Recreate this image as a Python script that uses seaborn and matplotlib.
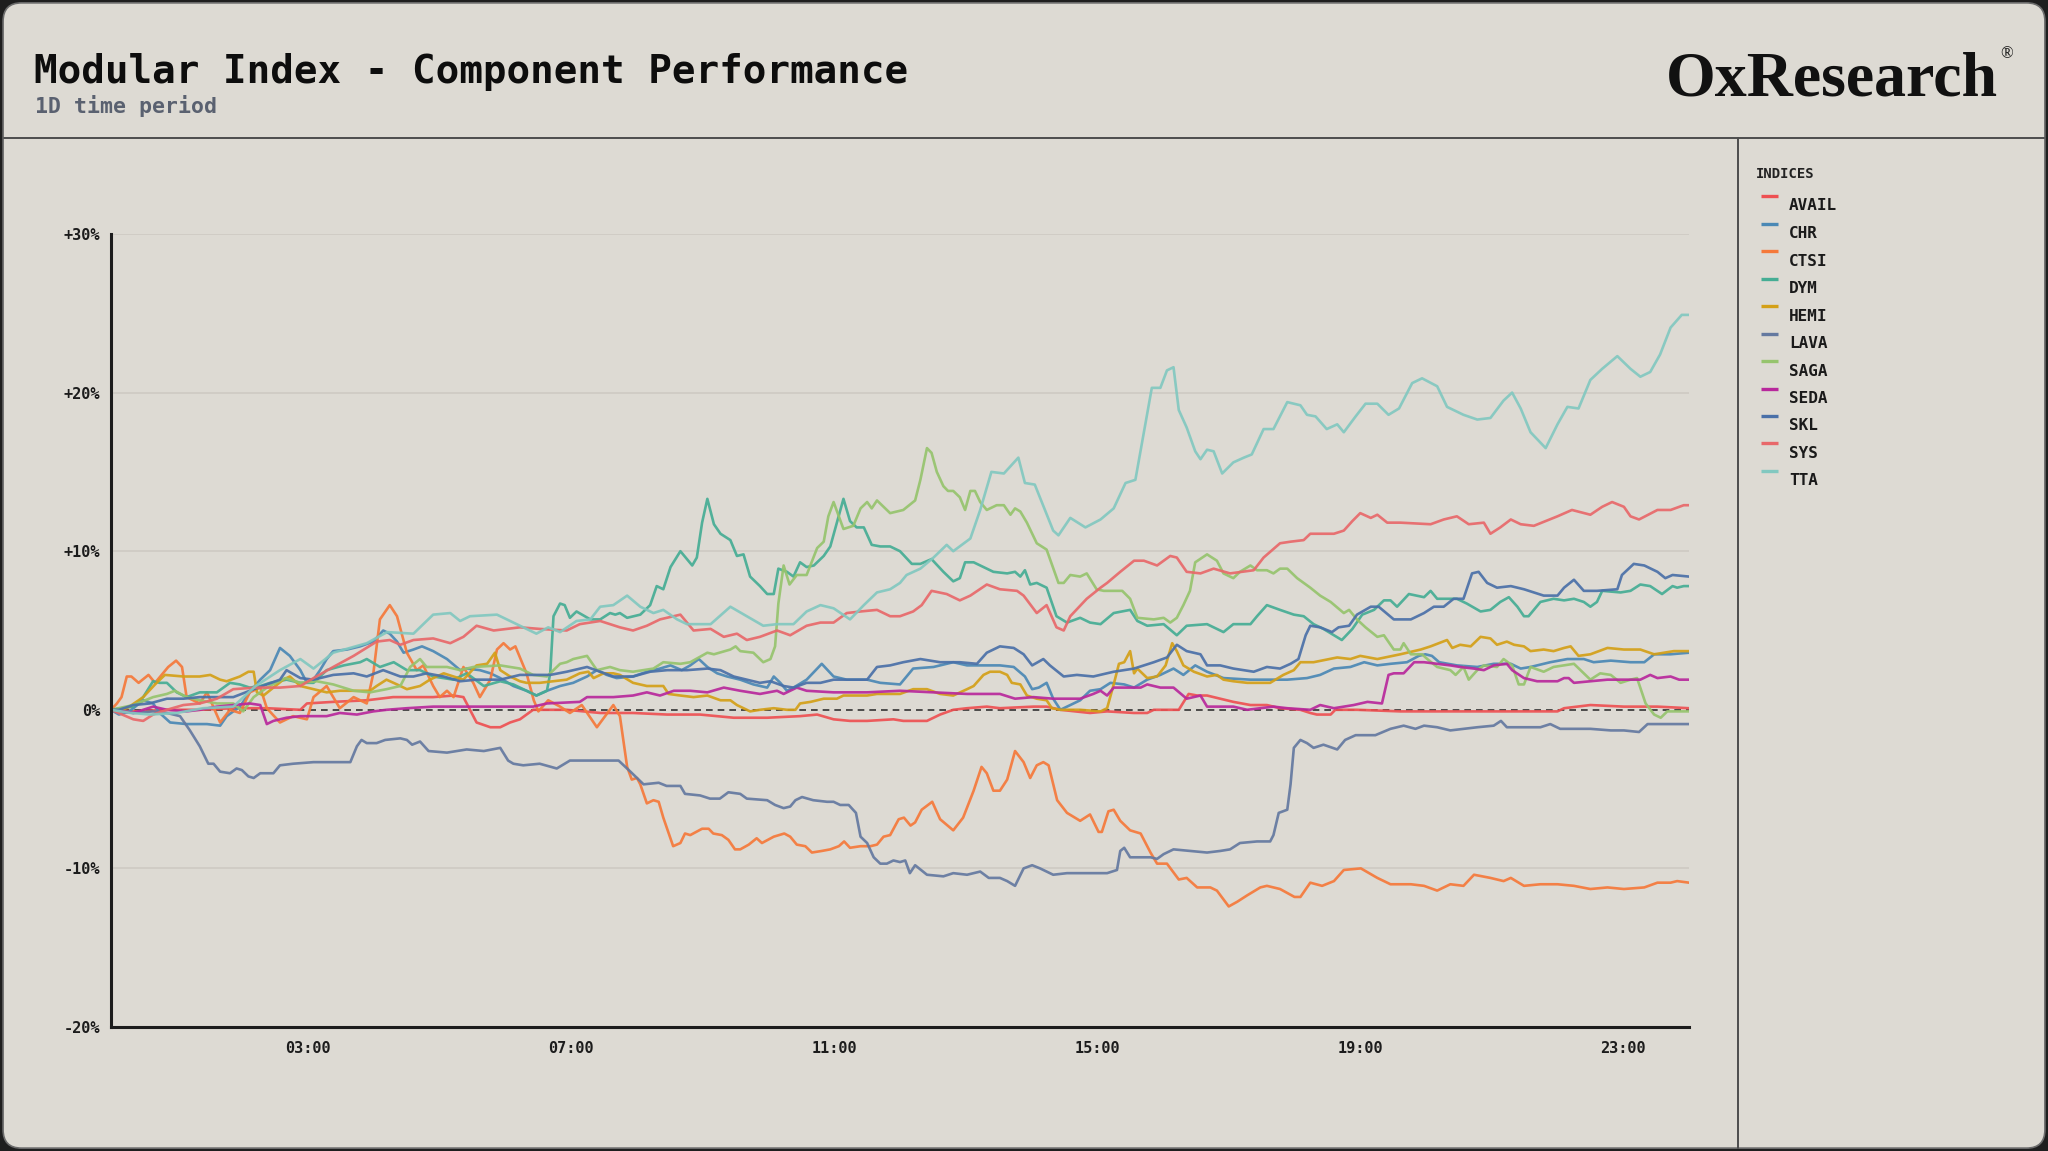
import matplotlib
matplotlib.use("Agg")
import matplotlib.pyplot as plt
from matplotlib.patches import FancyBboxPatch
from matplotlib.lines import Line2D
import seaborn as sns
import pandas as pd

# ---------------- data ----------------
names = ["AVAIL", "CHR", "CTSI", "DYM", "HEMI", "LAVA", "SAGA", "SEDA", "SKL", "SYS", "TTA"]
colors = ["#ee5052", "#4a88b5", "#f5793a", "#45ad94", "#d4a017", "#6479a0",
          "#96c46d", "#b8289c", "#4a70a8", "#e8686a", "#82c8c0"]

y_ticks = [-20, -10, 0, 10, 20, 30]
y_tick_labels = ["-20%", "-10%", "0%", "+10%", "+20%", "+30%"]
x_ticks = [3, 7, 11, 15, 19, 23]
x_tick_labels = ["03:00", "07:00", "11:00", "15:00", "19:00", "23:00"]

avail_h = [0, 0.34, 0.85, 1.35, 1.86, 2.37, 2.88, 2.98, 3.38, 3.89, 4.29, 4.6, 4.9, 5.21, 5.36, 5.41, 5.56, 5.77,
           5.92, 6.07, 6.22, 6.42, 6.93, 7.44, 7.94, 8.46, 8.96, 9.47, 9.98, 10.48, 10.74, 10.99, 11.24, 11.5,
           11.9, 12.05, 12.2, 12.41, 12.61, 12.81, 13.02, 13.32, 13.52, 14.03, 14.23, 14.44, 14.89, 15.15, 15.56,
           15.76, 15.86, 16.24, 16.39, 16.52, 16.67, 16.87, 17.07, 17.33, 17.58, 17.78, 18.09, 18.24, 18.34,
           18.55, 18.62, 18.95, 19.61, 20.22, 20.98, 22.0, 22.1, 22.5, 23.01, 23.52, 24.0]
avail_v = [0, -0.1, 0.0, 0.0, 0.1, 0.1, 0.0, 0.4, 0.5, 0.6, 0.8, 0.8, 0.8, 0.9, 0.8, 0.4, -0.8, -1.1,
           -1.1, -0.8, -0.6, 0.0, 0.0, -0.2, -0.2, -0.3, -0.3, -0.5, -0.5, -0.4, -0.3, -0.6, -0.7, -0.7,
           -0.6, -0.7, -0.7, -0.7, -0.3, 0.0, 0.1, 0.2, 0.1, 0.2, 0.2, 0.0, -0.2, -0.1, -0.2,
           -0.2, 0.0, 0.0, 1.0, 0.9, 0.9, 0.7, 0.5, 0.3, 0.3, 0.1, 0.0, -0.2, -0.3,
           -0.3, 0.0, 0.0, -0.1, -0.1, -0.1, -0.1, 0.1, 0.3, 0.2, 0.2, 0.1]

chr_h = [0, 0.12, 0.28, 0.49, 0.64, 0.74, 0.9, 1.15, 1.46, 1.66, 1.76, 1.96, 2.11, 2.27, 2.42, 2.57, 2.72, 2.88,
         2.98, 3.08, 3.18, 3.28, 3.38, 3.59, 3.79, 3.99, 4.14, 4.24, 4.35, 4.45, 4.6, 4.73, 4.9, 5.11, 5.31,
         5.41, 5.61, 5.77, 5.92, 6.12, 6.32, 6.47, 6.63, 6.83, 7.03, 7.24, 7.39, 7.54, 7.69, 7.94, 8.15, 8.35,
         8.51, 8.68, 8.81, 8.94, 9.07, 9.22, 9.37, 9.57, 9.77, 9.98, 10.08, 10.18, 10.28, 10.38, 10.58, 10.81,
         10.99, 11.19, 11.5, 11.7, 12.0, 12.2, 12.51, 12.81, 13.02, 13.27, 13.52, 13.73, 13.9, 14.01, 14.11,
         14.23, 14.33, 14.44, 14.59, 14.74, 14.89, 15.05, 15.2, 15.41, 15.56, 15.76, 15.96, 16.16, 16.31,
         16.49, 16.67, 16.92, 17.33, 17.58, 17.89, 18.19, 18.39, 18.6, 18.85, 19.06, 19.26, 19.46, 19.71,
         19.89, 19.99, 20.09, 20.2, 20.47, 20.78, 21.03, 21.29, 21.44, 21.59, 21.89, 22.15, 22.4, 22.55,
         22.81, 23.11, 23.32, 23.47, 23.72, 24.0]
chr_v = [0, -0.3, -0.1, 0.6, 0.4, -0.2, -0.8, -0.9, -0.9, -1.0, -0.4, 0.2, 1.1, 1.9, 2.5, 3.9, 3.4, 2.5,
         1.7, 1.9, 2.5, 3.2, 3.7, 3.8, 4.0, 4.3, 5.0, 4.8, 4.3, 3.6, 3.8, 4.0, 3.7, 3.2, 2.5,
         2.6, 2.5, 2.3, 2.0, 1.5, 1.2, 0.9, 1.2, 1.5, 1.7, 2.1, 2.5, 2.2, 2.0, 2.1, 2.4, 2.6,
         2.8, 2.5, 2.8, 3.2, 2.7, 2.3, 2.1, 1.9, 1.6, 1.4, 2.1, 1.7, 1.2, 1.4, 1.9, 2.9,
         2.1, 1.9, 1.9, 1.7, 1.6, 2.6, 2.7, 3.0, 2.8, 2.8, 2.8, 2.7, 2.1, 1.3, 1.4,
         1.7, 0.7, 0.0, 0.3, 0.6, 1.2, 1.3, 1.7, 1.6, 1.4, 1.9, 2.2, 2.6, 2.2,
         2.8, 2.4, 2.0, 1.9, 1.9, 1.9, 2.0, 2.2, 2.6, 2.7, 3.0, 2.8, 2.9, 3.0,
         3.4, 3.5, 3.4, 3.0, 2.8, 2.7, 2.9, 2.9, 2.6, 2.7, 3.0, 3.2, 3.2, 3.0,
         3.1, 3.0, 3.0, 3.5, 3.5, 3.6]

ctsi_h = [0, 0.09, 0.16, 0.24, 0.31, 0.42, 0.57, 0.67, 0.87, 0.99, 1.08, 1.15, 1.35, 1.46, 1.66, 1.81, 1.96,
          2.11, 2.27, 2.37, 2.57, 2.77, 2.98, 3.08, 3.28, 3.48, 3.69, 3.89, 3.99, 4.09, 4.24, 4.35, 4.5, 4.65,
          4.75, 4.9, 5.0, 5.11, 5.21, 5.36, 5.51, 5.61, 5.77, 5.87, 5.97, 6.07, 6.15, 6.32, 6.43, 6.5, 6.65,
          6.83, 6.98, 7.16, 7.39, 7.64, 7.74, 7.85, 7.92, 8.0, 8.05, 8.15, 8.25, 8.33, 8.4, 8.55, 8.66, 8.73,
          8.81, 8.99, 9.09, 9.16, 9.29, 9.39, 9.49, 9.57, 9.7, 9.82, 9.9, 10.08, 10.24, 10.33, 10.43, 10.56,
          10.66, 10.81, 10.94, 11.07, 11.15, 11.24, 11.4, 11.55, 11.65, 11.75, 11.85, 11.98, 12.06, 12.16,
          12.23, 12.33, 12.49, 12.61, 12.81, 12.96, 13.12, 13.24, 13.32, 13.42, 13.52, 13.63, 13.75, 13.88,
          13.98, 14.08, 14.18, 14.26, 14.39, 14.54, 14.74, 14.89, 15.02, 15.07, 15.17, 15.25, 15.35, 15.5,
          15.66, 15.81, 15.91, 16.06, 16.24, 16.36, 16.52, 16.72, 16.82, 17.0, 17.13, 17.28, 17.48, 17.58,
          17.78, 18.0, 18.09, 18.24, 18.42, 18.6, 18.75, 19.01, 19.26, 19.46, 19.77, 19.97, 20.17, 20.37,
          20.57, 20.73, 20.98, 21.18, 21.29, 21.49, 21.74, 22.0, 22.25, 22.5, 22.76, 23.01, 23.32, 23.52,
          23.72, 23.82, 24.0]
ctsi_v = [0, 0.4, 0.8, 2.1, 2.1, 1.7, 2.2, 1.7, 2.7, 3.1, 2.7, 0.8, 0.4, 1.1, -0.8, 0.0, -0.2,
          1.1, 1.4, 0.1, -0.8, -0.4, -0.6, 0.8, 1.5, 0.1, 0.8, 0.4, 2.3, 5.7, 6.6, 5.9, 3.6, 2.5,
          2.8, 1.5, 0.8, 1.2, 0.8, 2.7, 1.7, 0.8, 1.9, 3.8, 4.2, 3.8, 4.0, 2.3, 0.6, -0.1, 0.6,
          0.2, -0.2, 0.3, -1.1, 0.3, -0.4, -3.6, -4.4, -4.3, -4.7, -5.9, -5.7, -5.8, -6.8, -8.6, -8.4, -7.8,
          -7.9, -7.5, -7.5, -7.8, -7.9, -8.2, -8.8, -8.8, -8.5, -8.1, -8.4, -8.0, -7.8, -8.0, -8.5, -8.6,
          -9.0, -8.9, -8.8, -8.6, -8.3, -8.7, -8.6, -8.6, -8.5, -8.0, -7.9, -6.9, -6.8, -7.3,
          -7.1, -6.3, -5.8, -6.9, -7.6, -6.8, -5.1, -3.6, -4.0, -5.1, -5.1, -4.4, -2.6, -3.3,
          -4.3, -3.5, -3.3, -3.5, -5.7, -6.5, -7.0, -6.6, -7.7, -7.7, -6.4, -6.3, -7.0, -7.6,
          -7.8, -9.0, -9.7, -9.7, -10.7, -10.6, -11.2, -11.2, -11.4, -12.4, -12.1, -11.7, -11.2, -11.1,
          -11.3, -11.8, -11.8, -10.9, -11.1, -10.8, -10.1, -10.0, -10.6, -11.0, -11.0, -11.1, -11.4, -11.0,
          -11.1, -10.4, -10.6, -10.8, -10.6, -11.1, -11.0, -11.0, -11.1, -11.3, -11.2, -11.3, -11.2, -10.9,
          -10.9, -10.8, -10.9]

dym_h = [0, 0.34, 0.49, 0.64, 0.74, 0.85, 1.0, 1.15, 1.35, 1.61, 1.81, 1.96, 2.11, 2.27, 2.42, 2.67, 2.88, 3.08,
         3.28, 3.54, 3.79, 3.89, 4.09, 4.3, 4.5, 4.7, 4.9, 5.21, 5.41, 5.67, 5.92, 6.12, 6.32, 6.47, 6.63, 6.68,
         6.73, 6.83, 6.9, 6.98, 7.08, 7.29, 7.44, 7.59, 7.67, 7.74, 7.85, 8.05, 8.2, 8.3, 8.4, 8.51, 8.66, 8.84,
         8.91, 8.99, 9.07, 9.17, 9.27, 9.42, 9.52, 9.62, 9.72, 9.87, 9.98, 10.08, 10.15, 10.28, 10.38, 10.48,
         10.58, 10.69, 10.84, 10.94, 11.04, 11.14, 11.24, 11.34, 11.45, 11.57, 11.7, 11.85, 12.0, 12.18, 12.31,
         12.48, 12.66, 12.81, 12.91, 12.99, 13.12, 13.42, 13.63, 13.75, 13.83, 13.9, 13.98, 14.08, 14.23, 14.38,
         14.54, 14.74, 14.89, 15.05, 15.25, 15.5, 15.61, 15.76, 16.01, 16.21, 16.36, 16.67, 16.92, 17.07, 17.33,
         17.43, 17.58, 17.78, 17.99, 18.14, 18.29, 18.44, 18.6, 18.72, 18.88, 19.03, 19.21, 19.36, 19.46, 19.56,
         19.74, 19.97, 20.07, 20.17, 20.47, 20.62, 20.83, 20.98, 21.13, 21.26, 21.39, 21.49, 21.56, 21.74, 21.94,
         22.1, 22.25, 22.4, 22.5, 22.6, 22.68, 22.96, 23.11, 23.26, 23.41, 23.59, 23.75, 23.82, 23.92, 24.0]
dym_v = [0, 0.2, 0.8, 1.8, 1.7, 1.7, 1.1, 0.8, 1.1, 1.1, 1.7, 1.6, 1.4, 1.5, 1.7, 1.9, 1.7, 1.7,
         2.5, 2.8, 3.0, 3.2, 2.7, 3.0, 2.5, 2.5, 2.1, 1.9, 2.3, 1.5, 1.8, 1.6, 1.2, 0.9, 1.2, 2.3,
         5.9, 6.7, 6.6, 5.8, 6.2, 5.7, 5.7, 6.1, 6.0, 6.1, 5.8, 6.0, 6.6, 7.8, 7.6, 9.0, 10.0, 9.1,
         9.6, 11.8, 13.3, 11.7, 11.1, 10.7, 9.7, 9.8, 8.4, 7.8, 7.3, 7.3, 8.9, 8.7, 8.4, 9.3,
         9.0, 9.1, 9.7, 10.3, 11.8, 13.3, 11.9, 11.5, 11.5, 10.4, 10.3, 10.3, 10.0, 9.2, 9.2,
         9.5, 8.7, 8.1, 8.3, 9.3, 9.3, 8.7, 8.6, 8.7, 8.4, 8.8, 7.9, 8.0, 7.7, 5.9,
         5.5, 5.8, 5.5, 5.4, 6.1, 6.3, 5.6, 5.3, 5.4, 4.7, 5.3, 5.4, 4.9, 5.4, 5.4,
         5.9, 6.6, 6.3, 6.0, 5.9, 5.4, 5.1, 4.7, 4.4, 5.1, 6.0, 6.3, 6.9, 6.9, 6.5,
         7.3, 7.1, 7.5, 7.0, 7.0, 6.7, 6.2, 6.3, 6.8, 7.1, 6.5, 5.9, 5.9, 6.8, 7.0,
         6.9, 7.0, 6.8, 6.5, 6.8, 7.5, 7.4, 7.5, 7.9, 7.8, 7.3, 7.8, 7.7, 7.8, 7.8]

hemi_h = [0, 0.12, 0.28, 0.49, 0.67, 0.82, 1.1, 1.35, 1.51, 1.66, 1.76, 1.96, 2.09, 2.17, 2.22, 2.32, 2.47,
          2.62, 2.72, 2.88, 3.08, 3.28, 3.48, 3.79, 3.94, 4.04, 4.19, 4.35, 4.5, 4.7, 4.85, 5.06, 5.21, 5.36,
          5.56, 5.72, 5.84, 5.92, 6.07, 6.22, 6.32, 6.52, 6.73, 6.93, 7.13, 7.26, 7.34, 7.49, 7.64, 7.74, 7.94,
          8.15, 8.4, 8.48, 8.66, 8.86, 9.07, 9.27, 9.42, 9.52, 9.72, 9.87, 10.08, 10.28, 10.41, 10.48, 10.64,
          10.84, 11.04, 11.14, 11.29, 11.5, 11.65, 11.85, 12.0, 12.2, 12.41, 12.61, 12.81, 13.02, 13.12, 13.27,
          13.37, 13.52, 13.63, 13.7, 13.83, 13.93, 14.08, 14.23, 14.31, 14.44, 14.74, 15.05, 15.15, 15.25,
          15.33, 15.41, 15.5, 15.56, 15.61, 15.76, 15.91, 16.04, 16.14, 16.21, 16.31, 16.47, 16.67, 16.82,
          16.92, 17.07, 17.28, 17.48, 17.63, 17.83, 17.99, 18.09, 18.29, 18.65, 18.85, 19.0, 19.26, 19.61,
          19.92, 20.07, 20.32, 20.4, 20.52, 20.68, 20.83, 20.98, 21.08, 21.23, 21.34, 21.49, 21.59, 21.79,
          21.94, 22.1, 22.2, 22.32, 22.5, 22.76, 23.01, 23.26, 23.47, 23.77, 24.0]
hemi_v = [0, -0.1, 0.2, 0.8, 1.6, 2.2, 2.1, 2.1, 2.2, 1.9, 1.8, 2.1, 2.4, 2.4, 1.1, 0.9, 1.4,
          1.9, 2.1, 1.5, 1.3, 1.1, 1.2, 1.2, 1.2, 1.5, 1.9, 1.6, 1.3, 1.5, 1.9, 2.3, 2.1, 1.9,
          2.8, 2.9, 3.6, 2.5, 2.1, 1.8, 1.7, 1.7, 1.8, 1.9, 2.3, 2.4, 2.0, 2.3, 2.3, 2.2, 1.7,
          1.5, 1.5, 1.0, 0.9, 0.8, 0.9, 0.6, 0.6, 0.3, -0.1, 0.0, 0.1, 0.0, 0.0, 0.4, 0.5,
          0.7, 0.7, 0.9, 0.9, 0.9, 1.0, 1.0, 1.0, 1.3, 1.3, 1.0, 0.9, 1.3, 1.5, 2.2,
          2.4, 2.4, 2.2, 1.7, 1.6, 0.9, 0.7, 0.6, 0.1, 0.0, 0.0, -0.1, 0.1, 1.6,
          2.9, 3.0, 3.7, 2.3, 2.6, 2.0, 2.1, 2.8, 4.2, 3.7, 2.8, 2.4, 2.1, 2.2,
          1.9, 1.8, 1.7, 1.7, 1.7, 2.2, 2.5, 3.0, 3.0, 3.3, 3.2, 3.4, 3.2, 3.5,
          3.8, 4.0, 4.4, 3.9, 4.1, 4.0, 4.6, 4.5, 4.1, 4.3, 4.1, 4.0, 3.7, 3.8,
          3.7, 3.9, 4.0, 3.4, 3.5, 3.9, 3.8, 3.8, 3.5, 3.7, 3.7]

lava_h = [0, 0.34, 0.64, 0.85, 1.05, 1.2, 1.35, 1.48, 1.56, 1.66, 1.81, 1.91, 1.99, 2.09, 2.17, 2.27, 2.47,
          2.57, 2.77, 3.08, 3.38, 3.64, 3.74, 3.81, 3.89, 4.04, 4.17, 4.4, 4.5, 4.58, 4.7, 4.83, 5.11, 5.41,
          5.67, 5.92, 6.04, 6.12, 6.27, 6.52, 6.78, 6.98, 7.34, 7.72, 7.9, 8.0, 8.1, 8.33, 8.45, 8.66, 8.73,
          8.96, 9.11, 9.26, 9.39, 9.57, 9.67, 9.98, 10.1, 10.23, 10.33, 10.41, 10.51, 10.68, 10.89, 10.99,
          11.09, 11.22, 11.33, 11.4, 11.5, 11.6, 11.7, 11.8, 11.9, 12.0, 12.08, 12.15, 12.23, 12.41, 12.66,
          12.81, 13.02, 13.22, 13.35, 13.52, 13.63, 13.75, 13.88, 14.01, 14.13, 14.33, 14.54, 14.84, 15.15,
          15.3, 15.35, 15.41, 15.5, 15.81, 15.91, 16.01, 16.16, 16.41, 16.67, 16.87, 17.02, 17.17, 17.43,
          17.63, 17.68, 17.76, 17.89, 17.94, 17.99, 18.09, 18.19, 18.29, 18.44, 18.65, 18.77, 18.93, 19.23,
          19.46, 19.66, 19.84, 19.97, 20.17, 20.37, 20.57, 20.78, 21.03, 21.14, 21.23, 21.49, 21.74, 21.89,
          22.04, 22.5, 22.81, 23.01, 23.24, 23.37, 23.62, 24.0]
lava_v = [0, -0.2, -0.1, -0.2, -0.4, -1.3, -2.3, -3.4, -3.4, -3.9, -4.0, -3.7, -3.8, -4.2, -4.3, -4.0, -4.0,
          -3.5, -3.4, -3.3, -3.3, -3.3, -2.3, -1.9, -2.1, -2.1, -1.9, -1.8, -1.9, -2.2, -2.0, -2.6, -2.7, -2.5,
          -2.6, -2.4, -3.2, -3.4, -3.5, -3.4, -3.7, -3.2, -3.2, -3.2, -3.9, -4.3, -4.7, -4.6, -4.8, -4.8, -5.3,
          -5.4, -5.6, -5.6, -5.2, -5.3, -5.6, -5.7, -6.0, -6.2, -6.1, -5.7, -5.5, -5.7, -5.8, -5.8,
          -6.0, -6.0, -6.5, -8.0, -8.4, -9.3, -9.7, -9.7, -9.5, -9.6, -9.5, -10.3, -9.8, -10.4, -10.5,
          -10.3, -10.4, -10.2, -10.6, -10.6, -10.8, -11.1, -10.0, -9.8, -10.0, -10.4, -10.3, -10.3, -10.3,
          -10.1, -8.9, -8.7, -9.3, -9.3, -9.4, -9.1, -8.8, -8.9, -9.0, -8.9, -8.8, -8.4, -8.3,
          -8.3, -7.9, -6.5, -6.3, -4.7, -2.4, -1.9, -2.1, -2.4, -2.2, -2.5, -1.9, -1.6, -1.6,
          -1.2, -1.0, -1.2, -1.0, -1.1, -1.3, -1.2, -1.1, -1.0, -0.7, -1.1, -1.1, -1.1, -0.9,
          -1.2, -1.2, -1.3, -1.3, -1.4, -0.9, -0.9, -0.9]

saga_h = [0, 0.34, 0.64, 0.85, 0.97, 1.15, 1.35, 1.61, 1.86, 2.01, 2.17, 2.37, 2.65, 2.88, 3.13, 3.38, 3.69,
          3.94, 4.19, 4.4, 4.55, 4.7, 4.8, 5.11, 5.31, 5.51, 5.92, 6.22, 6.42, 6.63, 6.83, 6.93, 7.03, 7.24,
          7.39, 7.59, 7.74, 7.94, 8.25, 8.4, 8.66, 8.81, 9.07, 9.17, 9.42, 9.5, 9.57, 9.77, 9.92, 10.03, 10.1,
          10.15, 10.23, 10.32, 10.43, 10.58, 10.74, 10.84, 10.91, 10.99, 11.14, 11.29, 11.4, 11.5, 11.57,
          11.65, 11.85, 12.05, 12.23, 12.31, 12.41, 12.48, 12.56, 12.66, 12.73, 12.81, 12.91, 12.99, 13.07,
          13.14, 13.22, 13.32, 13.47, 13.58, 13.68, 13.75, 13.83, 13.93, 14.08, 14.23, 14.41, 14.49, 14.59,
          14.74, 14.84, 14.99, 15.1, 15.38, 15.5, 15.61, 15.86, 16.01, 16.11, 16.21, 16.31, 16.41, 16.49,
          16.67, 16.82, 16.92, 17.07, 17.17, 17.33, 17.43, 17.58, 17.68, 17.78, 17.89, 18.04, 18.24, 18.39,
          18.55, 18.75, 18.83, 18.95, 19.08, 19.26, 19.36, 19.51, 19.61, 19.66, 19.77, 19.94, 20.02, 20.17,
          20.37, 20.45, 20.57, 20.65, 20.78, 20.88, 21.08, 21.18, 21.31, 21.41, 21.49, 21.59, 21.79, 21.94,
          22.25, 22.5, 22.65, 22.81, 22.96, 23.11, 23.21, 23.34, 23.47, 23.57, 23.67, 23.82, 24.0]
saga_v = [0, 0.3, 0.8, 1.0, 1.2, 0.8, 0.6, 0.4, 0.4, -0.1, 0.8, 1.4, 2.0, 1.7, 1.8, 1.6, 1.2,
          1.1, 1.3, 1.5, 2.7, 3.2, 2.7, 2.7, 2.5, 2.7, 2.8, 2.6, 2.2, 2.1, 2.9, 3.0, 3.2, 3.4,
          2.5, 2.7, 2.5, 2.4, 2.6, 3.0, 2.9, 3.0, 3.6, 3.5, 3.8, 4.0, 3.7, 3.6, 3.0, 3.2, 4.0,
          6.7, 9.1, 7.9, 8.5, 8.5, 10.2, 10.6, 12.2, 13.1, 11.4, 11.6, 12.7, 13.1, 12.7,
          13.2, 12.4, 12.6, 13.2, 14.5, 16.5, 16.2, 15.0, 14.1, 13.8, 13.8, 13.4, 12.6, 13.8,
          13.8, 13.1, 12.6, 12.9, 12.9, 12.3, 12.7, 12.5, 11.8, 10.5, 10.1, 8.0, 8.0, 8.5,
          8.4, 8.6, 7.6, 7.5, 7.5, 7.0, 5.8, 5.7, 5.8, 5.5, 5.8, 6.6, 7.5, 9.3,
          9.8, 9.4, 8.6, 8.3, 8.7, 9.1, 8.8, 8.8, 8.6, 8.9, 8.9, 8.3, 7.7, 7.2,
          6.8, 6.1, 6.3, 5.7, 5.2, 4.6, 4.7, 3.8, 3.8, 4.2, 3.5, 3.5, 3.2, 2.7,
          2.5, 2.2, 2.7, 1.9, 2.5, 2.8, 2.7, 3.2, 2.8, 1.6, 1.6, 2.7, 2.4, 2.7,
          2.9, 1.9, 2.3, 2.2, 1.7, 1.9, 2.0, 0.4, -0.3, -0.5, -0.1, -0.1, -0.1]

seda_h = [0, 0.34, 0.64, 0.85, 1.15, 1.35, 1.61, 1.86, 2.11, 2.27, 2.37, 2.47, 2.67, 2.88, 3.08, 3.28, 3.48,
          3.74, 3.99, 4.19, 4.5, 4.9, 5.21, 5.61, 6.0, 6.42, 6.63, 7.13, 7.24, 7.64, 7.94, 8.15, 8.35, 8.56,
          8.81, 9.07, 9.32, 9.57, 9.87, 10.13, 10.23, 10.43, 10.58, 10.99, 11.5, 12.0, 12.51, 13.02, 13.52,
          13.75, 14.03, 14.33, 14.74, 14.94, 15.05, 15.15, 15.25, 15.45, 15.66, 15.76, 15.96, 16.16, 16.36,
          16.57, 16.67, 16.87, 17.07, 17.28, 17.48, 17.68, 17.89, 18.24, 18.39, 18.6, 18.9, 19.11, 19.33,
          19.43, 19.51, 19.66, 19.82, 19.97, 20.17, 20.37, 20.52, 20.73, 20.88, 21.03, 21.23, 21.31, 21.49,
          21.69, 22.0, 22.1, 22.17, 22.25, 22.5, 22.76, 23.01, 23.26, 23.41, 23.52, 23.72, 23.85, 24.0]
seda_v = [0, -0.2, 0.2, 0.0, -0.1, 0.0, 0.2, 0.3, 0.4, 0.3, -0.9, -0.7, -0.5, -0.4, -0.4, -0.4, -0.2,
          -0.3, -0.1, 0.0, 0.1, 0.2, 0.2, 0.2, 0.2, 0.2, 0.4, 0.5, 0.8, 0.8, 0.9, 1.1, 0.9, 1.2,
          1.2, 1.1, 1.4, 1.2, 1.0, 1.2, 1.0, 1.4, 1.2, 1.1, 1.1, 1.2, 1.1, 1.0, 1.0,
          0.7, 0.8, 0.7, 0.7, 1.0, 1.2, 0.9, 1.4, 1.4, 1.4, 1.6, 1.4, 1.4, 0.7,
          0.9, 0.2, 0.2, 0.2, 0.0, 0.1, 0.2, 0.1, 0.0, 0.3, 0.1, 0.3, 0.5, 0.4,
          2.2, 2.3, 2.3, 3.0, 3.0, 2.9, 2.8, 2.7, 2.6, 2.5, 2.8, 2.9, 2.5, 2.0,
          1.8, 1.8, 2.0, 2.0, 1.7, 1.8, 1.9, 1.9, 1.9, 2.2, 2.0, 2.1, 1.9, 1.9]

skl_h = [0, 0.12, 0.34, 0.59, 0.85, 1.1, 1.35, 1.61, 1.86, 2.11, 2.37, 2.57, 2.67, 2.88, 3.08, 3.38, 3.69,
         3.89, 4.14, 4.4, 4.6, 4.8, 5.06, 5.31, 5.56, 5.92, 6.22, 6.68, 6.93, 7.24, 7.44, 7.64, 7.94, 8.2,
         8.46, 8.76, 9.07, 9.27, 9.47, 9.67, 9.87, 10.03, 10.23, 10.38, 10.58, 10.79, 10.99, 11.29, 11.5,
         11.65, 11.85, 12.05, 12.31, 12.61, 12.91, 13.17, 13.32, 13.52, 13.73, 13.88, 14.01, 14.18, 14.28,
         14.49, 14.69, 14.94, 15.25, 15.56, 15.86, 16.06, 16.21, 16.36, 16.57, 16.67, 16.87, 17.07, 17.38,
         17.58, 17.78, 17.94, 18.06, 18.17, 18.24, 18.39, 18.57, 18.67, 18.83, 18.95, 19.16, 19.28, 19.51,
         19.77, 19.97, 20.12, 20.27, 20.42, 20.57, 20.7, 20.8, 20.93, 21.08, 21.29, 21.49, 21.79, 22.0,
         22.1, 22.25, 22.4, 22.6, 22.91, 22.98, 23.16, 23.32, 23.52, 23.64, 23.75, 24.0]
skl_v = [0, 0.0, 0.3, 0.4, 0.7, 0.7, 0.8, 0.8, 0.8, 1.2, 1.6, 1.9, 2.5, 2.0, 1.9, 2.2, 2.3,
         2.1, 2.5, 2.1, 2.1, 2.3, 2.1, 1.8, 1.9, 1.9, 2.2, 2.2, 2.4, 2.7, 2.4, 2.1, 2.1, 2.4,
         2.5, 2.5, 2.6, 2.5, 2.1, 1.9, 1.7, 1.8, 1.5, 1.4, 1.7, 1.7, 1.9, 1.9, 1.9,
         2.7, 2.8, 3.0, 3.2, 3.0, 3.0, 2.9, 3.6, 4.0, 3.9, 3.5, 2.8, 3.2, 2.8,
         2.1, 2.2, 2.1, 2.4, 2.6, 3.0, 3.3, 4.1, 3.7, 3.5, 2.8, 2.8, 2.6, 2.4,
         2.7, 2.6, 2.9, 3.2, 4.7, 5.3, 5.2, 4.9, 5.2, 5.3, 6.0, 6.5, 6.5, 5.7,
         5.7, 6.1, 6.5, 6.5, 7.0, 7.0, 8.6, 8.7, 8.0, 7.7, 7.8, 7.6, 7.2, 7.2,
         7.7, 8.2, 7.5, 7.5, 7.6, 8.5, 9.2, 9.1, 8.7, 8.3, 8.5, 8.4]

sys_h = [0, 0.34, 0.49, 0.64, 0.85, 1.1, 1.35, 1.61, 1.86, 2.2, 2.57, 2.88, 3.08, 3.38, 3.69, 4.04, 4.24, 4.4,
         4.6, 4.9, 5.16, 5.36, 5.56, 5.82, 6.22, 6.52, 6.93, 7.13, 7.44, 7.74, 7.94, 8.15, 8.35, 8.66, 8.86,
         9.12, 9.32, 9.52, 9.67, 9.87, 10.13, 10.33, 10.58, 10.79, 10.99, 11.19, 11.4, 11.65, 11.85, 12.0, 12.2,
         12.33, 12.48, 12.71, 12.91, 13.07, 13.32, 13.52, 13.78, 13.88, 14.08, 14.23, 14.38, 14.49, 14.59,
         14.84, 15.05, 15.15, 15.35, 15.56, 15.71, 15.91, 16.11, 16.21, 16.36, 16.57, 16.77, 17.02, 17.38,
         17.53, 17.78, 17.94, 18.14, 18.24, 18.6, 18.75, 18.88, 19.0, 19.16, 19.26, 19.41, 19.61, 20.07,
         20.27, 20.47, 20.65, 20.88, 20.98, 21.13, 21.29, 21.44, 21.64, 22.0, 22.22, 22.5, 22.68, 22.83,
         23.01, 23.11, 23.24, 23.52, 23.72, 23.92, 24.0]
sys_v = [0, -0.6, -0.7, -0.3, 0.0, 0.3, 0.4, 0.7, 1.3, 1.4, 1.4, 1.5, 2.0, 2.7, 3.4, 4.3, 4.4, 4.1,
         4.4, 4.5, 4.2, 4.6, 5.3, 5.0, 5.2, 5.1, 5.0, 5.4, 5.6, 5.2, 5.0, 5.3, 5.7, 6.0, 5.0,
         5.1, 4.6, 4.8, 4.4, 4.6, 5.0, 4.7, 5.3, 5.5, 5.5, 6.1, 6.2, 6.3, 5.9, 5.9, 6.2,
         6.6, 7.5, 7.3, 6.9, 7.2, 7.9, 7.6, 7.5, 7.2, 6.1, 6.6, 5.2, 5.0, 5.9,
         7.0, 7.7, 8.0, 8.7, 9.4, 9.4, 9.1, 9.7, 9.6, 8.7, 8.6, 8.9, 8.6, 8.8,
         9.6, 10.5, 10.6, 10.7, 11.1, 11.1, 11.3, 11.9, 12.4, 12.1, 12.3, 11.8, 11.8, 11.7,
         12.0, 12.2, 11.7, 11.8, 11.1, 11.5, 12.0, 11.7, 11.6, 12.2, 12.6, 12.3, 12.8, 13.1,
         12.8, 12.2, 12.0, 12.6, 12.6, 12.9, 12.9]

tta_h = [0, 0.3, 0.6, 1.0, 1.4, 1.86, 2.2, 2.57, 2.88, 3.08, 3.38, 3.89, 4.2, 4.6, 4.9, 5.16, 5.31, 5.46, 5.87,
         6.47, 6.65, 6.83, 7.08, 7.29, 7.44, 7.64, 7.85, 8.05, 8.25, 8.4, 8.61, 8.76, 9.12, 9.42, 9.67, 9.92,
         10.13, 10.38, 10.58, 10.79, 10.99, 11.24, 11.45, 11.65, 11.85, 12.0, 12.1, 12.31, 12.51, 12.71, 12.81,
         13.07, 13.22, 13.39, 13.58, 13.8, 13.9, 14.05, 14.33, 14.41, 14.59, 14.82, 15.05, 15.25, 15.43, 15.58,
         15.83, 15.96, 16.06, 16.16, 16.24, 16.36, 16.49, 16.57, 16.67, 16.77, 16.9, 17.07, 17.23, 17.35,
         17.53, 17.68, 17.89, 18.09, 18.19, 18.32, 18.49, 18.65, 18.75, 18.93, 19.08, 19.26, 19.43, 19.59,
         19.79, 19.94, 20.17, 20.32, 20.57, 20.78, 20.98, 21.18, 21.31, 21.44, 21.59, 21.82, 22.0, 22.15,
         22.32, 22.5, 22.68, 22.91, 23.11, 23.26, 23.41, 23.56, 23.72, 23.89, 24.0]
tta_v = [0, -0.2, -0.3, -0.2, 0.1, 0.2, 1.5, 2.5, 3.2, 2.6, 3.6, 4.2, 4.9, 4.8, 6.0, 6.1, 5.6, 5.9, 6.0,
         4.8, 5.2, 4.9, 5.6, 5.7, 6.5, 6.6, 7.2, 6.5, 6.1, 6.3, 5.7, 5.4, 5.4, 6.5, 5.9, 5.3,
         5.4, 5.4, 6.2, 6.6, 6.4, 5.7, 6.6, 7.4, 7.6, 8.0, 8.5, 8.9, 9.6, 10.4, 10.0,
         10.8, 12.6, 15.0, 14.9, 15.9, 14.3, 14.2, 11.3, 11.0, 12.1, 11.5, 12.0, 12.7, 14.3, 14.5,
         20.3, 20.3, 21.4, 21.6, 18.9, 17.8, 16.3, 15.8, 16.4, 16.3, 14.9, 15.6, 15.9, 16.1,
         17.7, 17.7, 19.4, 19.2, 18.6, 18.5, 17.7, 18.0, 17.5, 18.5, 19.3, 19.3, 18.6, 19.0,
         20.6, 20.9, 20.4, 19.1, 18.6, 18.3, 18.4, 19.5, 20.0, 19.0, 17.5, 16.5, 18.0, 19.1,
         19.0, 20.8, 21.5, 22.3, 21.5, 21.0, 21.3, 22.4, 24.1, 24.9, 24.9]

series = {
    "AVAIL": (avail_h, avail_v), "CHR": (chr_h, chr_v), "CTSI": (ctsi_h, ctsi_v),
    "DYM": (dym_h, dym_v), "HEMI": (hemi_h, hemi_v), "LAVA": (lava_h, lava_v),
    "SAGA": (saga_h, saga_v), "SEDA": (seda_h, seda_v), "SKL": (skl_h, skl_v),
    "SYS": (sys_h, sys_v), "TTA": (tta_h, tta_v),
}

df = pd.concat(
    [pd.DataFrame({"hour": h, "change": v, "index": n}) for n, (h, v) in series.items()],
    ignore_index=True,
)

# ---------------- style ----------------
BG = "#dddad3"
INK = "#1c1c1c"
sns.set_theme(style="white", rc={"axes.facecolor": BG, "figure.facecolor": "#1e1e1e"})
plt.rcParams["font.family"] = ["DejaVu Sans Mono", "DejaVu Sans"]

fig = plt.figure(figsize=(20.48, 11.51), dpi=100)

# rounded card background
card = FancyBboxPatch((0.0015, 0.0025), 0.997, 0.995,
                      boxstyle="round,pad=0,rounding_size=0.009",
                      transform=fig.transFigure, facecolor=BG, edgecolor="#6b6b6b",
                      linewidth=1.2, zorder=-10, mutation_aspect=2048 / 1151)
fig.patches.append(card)

# header separator and legend panel separator
fig.add_artist(Line2D([0.002, 0.998], [1 - 138 / 1151] * 2, transform=fig.transFigure,
                      color="#4d4d4d", lw=1.4))
fig.add_artist(Line2D([1738 / 2048] * 2, [0.003, 1 - 138 / 1151], transform=fig.transFigure,
                      color="#4d4d4d", lw=1.4))

# title block
fig.text(34 / 2048, 1 - 72 / 1151, "Modular Index - Component Performance",
         fontsize=28.3, fontweight="bold", color="#0d0d0d", ha="left", va="center")
fig.text(35 / 2048, 1 - 106 / 1151, "1D time period",
         fontsize=15.5, fontweight="bold", color="#5a6170", ha="left", va="center")

# logo
fig.text(1998 / 2048, 1 - 95 / 1151, "OxResearch", family=["Liberation Serif", "DejaVu Serif"],
         fontsize=46, fontweight="bold", color="#111111", ha="right", va="baseline")
fig.text(2000 / 2048, 1 - 54 / 1151, "®", family=["Liberation Serif", "DejaVu Serif"],
         fontsize=12, color="#111111", ha="left", va="center")

# ---------------- chart ----------------
ax = fig.add_axes([111 / 2048, 1 - 1027 / 1151, (1689 - 111) / 2048, (1027 - 234) / 1151])
ax.set_facecolor(BG)
ax.patch.set_alpha(0)

for y in [30, 20, 10, -10]:
    ax.axhline(y, color="#cdc9c2", lw=1.1, zorder=0.5)
ax.axhline(0, color="#333333", lw=1.2, ls=(0, (4, 3)), zorder=1.5)

sns.lineplot(data=df, x="hour", y="change", hue="index", hue_order=names,
             palette=dict(zip(names, colors)), estimator=None, sort=False,
             legend=False, linewidth=1.9, alpha=0.92, ax=ax, zorder=2)

ax.set_xlim(0, 24)
ax.set_ylim(-20, 30)
ax.set_xticks(x_ticks)
ax.set_xticklabels(x_tick_labels)
ax.set_yticks(y_ticks)
ax.set_yticklabels(y_tick_labels)
ax.set_xlabel("")
ax.set_ylabel("")
ax.grid(False)

for s in ["top", "right"]:
    ax.spines[s].set_visible(False)
for s in ["left", "bottom"]:
    ax.spines[s].set_color(INK)
    ax.spines[s].set_linewidth(2.2)

ax.tick_params(axis="y", length=5, width=1.4, color=INK, pad=3, labelsize=11, labelcolor=INK)
ax.tick_params(axis="x", length=4, width=1.2, color="#444444", pad=6, labelsize=11, labelcolor=INK)
for lab in ax.get_xticklabels() + ax.get_yticklabels():
    lab.set_fontweight("bold")

# ---------------- legend panel ----------------
fig.text(1756 / 2048, 1 - 174 / 1151, "INDICES", fontsize=10, fontweight="bold",
         color="#222222", ha="left", va="center")
for i, (n, c) in enumerate(zip(names, colors)):
    ys = 196 + i * 27.5
    fig.add_artist(Line2D([1761 / 2048, 1778 / 2048], [1 - ys / 1151] * 2,
                          transform=fig.transFigure, color=c, lw=2.4, solid_capstyle="butt"))
    fig.text(1789 / 2048, 1 - (ys + 10) / 1151, n, fontsize=11.5, fontweight="bold",
             color="#1a1a1a", ha="left", va="center")

fig.savefig("out.png", dpi=100, facecolor=fig.get_facecolor())
